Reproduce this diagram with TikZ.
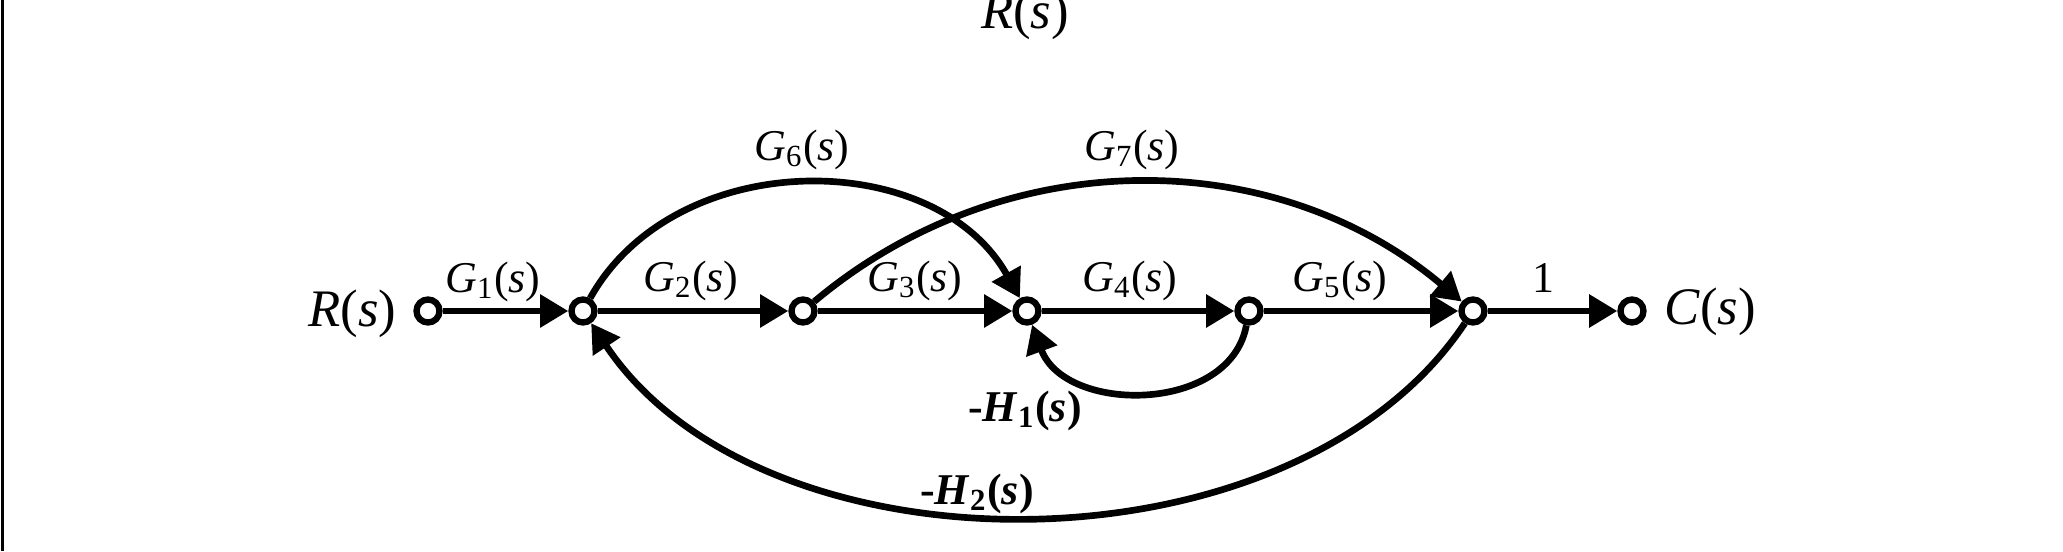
\documentclass[tikz,border=0pt]{standalone}
\usepackage{fontspec}
\setmainfont{Liberation Serif}
\usetikzlibrary{arrows.meta}
\newcommand{\tfn}[2]{\textit{#1}\textsubscript{#2}(\textit{s})}
\begin{document}
\begin{tikzpicture}[
  sfnode/.style={circle,draw,fill=white,line width=1.8pt,inner sep=0pt,minimum size=0.23cm},
  br/.style={line width=1.9pt,-{Triangle[length=8pt,width=9pt]}},
  lbl/.style={inner sep=0pt,font=\fontsize{12.5}{15}\selectfont},
  biglbl/.style={inner sep=0pt,font=\fontsize{15}{18}\selectfont},
  hlbl/.style={inner sep=0pt,font=\fontsize{12.5}{15}\selectfont\bfseries}
]
\useasboundingbox (0,0) rectangle (20.63,5.51);
\fill[white] (0,0) rectangle (20.63,5.51);
\draw[line width=0.03cm] (0.02,0) -- (0.02,5.51);

% nodes
\node[sfnode] (R) at (4.28,2.40) {};
\node[sfnode] (n1) at (5.83,2.40) {};
\node[sfnode] (n2) at (8.03,2.40) {};
\node[sfnode] (n3) at (10.27,2.40) {};
\node[sfnode] (n4) at (12.49,2.40) {};
\node[sfnode] (n5) at (14.73,2.40) {};
\node[sfnode] (C) at (16.32,2.40) {};

\node[biglbl,anchor=east] (Rl) at (3.97,2.37) {\textit{R}(\textit{s})};
\node[biglbl,anchor=west] (Cl) at (16.64,2.39) {\textit{C}(\textit{s})};
\node[biglbl] (Rtop) at (10.25,5.35) {\textit{R}(\textit{s})};

% forward branches
\draw[br] (R) -- (n1);
\draw[br] (n1) -- (n2);
\draw[br] (n2) -- (n3);
\draw[br] (n3) -- (n4);
\draw[br] (n4) -- (n5);
\draw[br] (n5) -- (C);

% feed-forward arcs
\draw[br] (n1) .. controls (6.75,4.05) and (9.35,4.05) .. (n3);
\draw[br] (n2) .. controls (10.03,4.08) and (12.73,4.08) .. (n5);

% feedback loops
\draw[br] (n4) .. controls (12.30,1.37) and (10.65,1.37) .. (n3);
\draw[br] (n5) .. controls (12.93,-0.30) and (7.63,-0.30) .. (n1);

% branch labels
\node[lbl] (g1) at (4.93,2.69) {\tfn{G}{1}};
\node[lbl] (g2) at (6.91,2.70) {\tfn{G}{2}};
\node[lbl] (g3) at (9.15,2.70) {\tfn{G}{3}};
\node[lbl] (g4) at (11.30,2.70) {\tfn{G}{4}};
\node[lbl] (g5) at (13.40,2.70) {\tfn{G}{5}};
\node[lbl] (one) at (15.43,2.73) {1};
\node[lbl] (g6) at (8.02,4.01) {\tfn{G}{6}};
\node[lbl] (g7) at (11.32,4.01) {\tfn{G}{7}};
\node[hlbl] (h1) at (10.25,1.40) {-\tfn{H}{1}};
\node[hlbl] (h2) at (9.77,0.57) {-\tfn{H}{2}};
\end{tikzpicture}
\end{document}
